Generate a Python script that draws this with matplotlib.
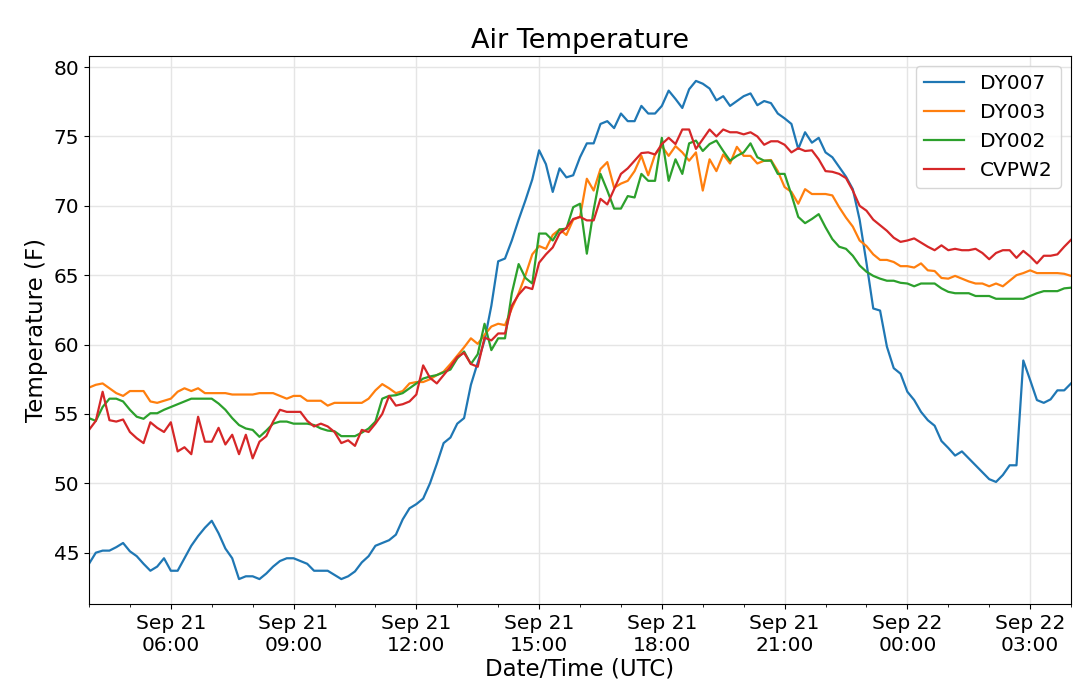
import matplotlib
matplotlib.use("Agg")
import matplotlib.pyplot as plt
import matplotlib.dates as mdates
import pandas as pd

times = pd.date_range("2019-09-21 04:00", periods=145, freq="10min")

dy007 = [44.2, 45.0, 45.15, 45.15, 45.4, 45.7, 45.1, 44.75, 44.2, 43.7, 44.0, 44.6, 43.7, 43.7, 44.6, 45.5,
         46.2, 46.8, 47.3, 46.4, 45.3, 44.6, 43.1, 43.3, 43.3, 43.1, 43.5, 44.0, 44.4, 44.6, 44.6, 44.4,
         44.2, 43.7, 43.7, 43.7, 43.4, 43.1, 43.3, 43.65, 44.3, 44.75, 45.5, 45.7, 45.9, 46.3, 47.4, 48.2,
         48.5,
         48.9, 50.0, 51.4, 52.9, 53.3, 54.3, 54.7, 57.1, 58.7, 60.3, 62.8, 66.0, 66.2, 67.5, 69.0, 70.4,
         71.9, 74.0, 73.0, 71.0, 72.7, 72.05, 72.2, 73.5, 74.5, 74.5,
         75.9, 76.1, 75.6, 76.65, 76.1, 76.1, 77.2, 76.65, 76.65, 77.2,
         78.3, 77.7, 77.05, 78.4, 79.0, 78.8, 78.45, 77.6, 77.9, 77.2, 77.55, 77.9, 78.1, 77.25, 77.55,
         77.4, 76.65, 76.3, 75.9, 74.1, 75.3, 74.55, 74.9,
         73.85, 73.5, 72.8, 72.1, 71.2, 69.0, 65.9, 62.6, 62.45, 59.85, 58.3, 57.9, 56.6, 56.0, 55.15,
         54.55, 54.15, 53.05, 52.55, 52.0, 52.3, 51.8, 51.3, 50.8, 50.3, 50.1, 50.6, 51.3, 51.3, 58.85,
         57.45, 56.0, 55.8, 56.05, 56.7, 56.7, 57.2]

dy003 = [56.9, 57.1, 57.2, 56.85, 56.5, 56.3, 56.65, 56.65, 56.65, 55.9, 55.8, 55.95, 56.1, 56.6, 56.85,
         56.65, 56.85, 56.5, 56.5, 56.5, 56.5, 56.4, 56.4, 56.4, 56.4, 56.5, 56.5, 56.5, 56.3, 56.1, 56.3,
         56.3, 55.95, 55.95, 55.95, 55.6, 55.8, 55.8, 55.8, 55.8, 55.8, 56.1, 56.7, 57.15, 56.85, 56.5,
         56.65, 57.2, 57.3,
         57.3, 57.5, 57.8, 58.05, 58.6, 59.2, 59.8, 60.45, 60.05, 60.7, 61.3, 61.5, 61.4, 62.6, 63.7, 65.0,
         66.5, 67.1, 66.9, 67.9, 68.3, 67.9, 69.0, 69.2, 71.95, 71.1, 72.65, 73.15, 71.3, 71.6, 71.8, 72.5,
         73.6, 72.2, 73.7, 74.3, 73.6, 74.3, 73.85, 73.25, 73.85, 71.1, 73.35, 72.5, 73.7, 73.05, 74.25,
         73.6, 73.6, 73.05, 73.25, 73.3, 72.5, 71.35, 71.0, 70.15, 71.2, 70.85, 70.85, 70.85, 70.75,
         69.9, 69.15, 68.5, 67.5, 67.1, 66.5, 66.1, 66.1, 65.95, 65.65, 65.65, 65.55, 65.85, 65.35, 65.3,
         64.8, 64.75, 64.95, 64.75, 64.55, 64.4, 64.4, 64.2, 64.4, 64.2, 64.6, 65.0, 65.15, 65.35, 65.15,
         65.15, 65.15, 65.15, 65.1, 64.95]

dy002 = [54.7, 54.5, 55.5, 56.1, 56.1, 55.9, 55.3, 54.8, 54.65, 55.05, 55.05, 55.3, 55.5, 55.7, 55.9,
         56.1, 56.1, 56.1, 56.1, 55.75, 55.3, 54.7, 54.2, 53.95, 53.85, 53.35, 53.8, 54.3, 54.45, 54.45,
         54.3, 54.3, 54.3, 54.2, 53.95, 53.8, 53.75, 53.4, 53.4, 53.4, 53.65, 53.95, 54.45, 56.1, 56.3,
         56.35, 56.5, 56.85, 57.2,
         57.55, 57.7, 57.8, 58.0, 58.2, 59.0, 59.5, 58.6, 59.3, 61.5, 59.6, 60.45, 60.45, 63.7, 65.8, 64.8,
         64.4, 68.0, 68.0, 67.5, 68.3, 68.35, 69.9, 70.15, 66.55, 69.7, 72.3, 71.1, 69.8, 69.8, 70.7, 70.6,
         72.3, 71.8, 71.8, 74.9, 71.8, 73.35, 72.3, 74.5, 74.7, 73.95, 74.45, 74.7, 73.95, 73.25, 73.6,
         73.85, 74.5, 73.5, 73.25, 73.25, 72.3, 72.3, 70.8, 69.2, 68.75, 69.05, 69.4, 68.45, 67.6,
         67.05, 66.9, 66.4, 65.7, 65.25, 64.95, 64.75, 64.6, 64.6, 64.45, 64.4, 64.2, 64.4, 64.4, 64.4,
         64.05, 63.8, 63.7, 63.7, 63.7, 63.5, 63.5, 63.5, 63.3, 63.3, 63.3, 63.3, 63.3, 63.5, 63.7, 63.85,
         63.85, 63.85, 64.05, 64.1]

cvpw2 = [53.85, 54.5, 56.6, 54.55, 54.45, 54.6, 53.7, 53.25, 52.9, 54.4, 54.0, 53.7, 54.4, 52.3, 52.6,
         52.1, 54.8, 53.0, 53.0, 54.0, 52.8, 53.5, 52.1, 53.5, 51.8, 53.0, 53.4, 54.45, 55.3, 55.15, 55.15,
         55.15, 54.5, 54.1, 54.3, 54.1, 53.7, 52.9, 53.1, 52.7, 53.85, 53.7, 54.3, 55.0, 56.3, 55.6, 55.7,
         55.9, 56.4,
         58.5, 57.6, 57.2, 57.8, 58.4, 59.1, 59.4, 58.6, 58.4, 60.5, 60.3, 60.8, 60.8, 62.8, 63.6, 64.15,
         64.0, 65.9, 66.5, 67.0, 68.0, 68.4, 69.05, 69.2, 68.95, 68.95, 70.5, 70.1, 71.2, 72.3, 72.7, 73.25,
         73.8, 73.85, 73.7, 74.45, 74.9, 74.45, 75.5, 75.5, 74.1, 74.8, 75.5, 75.0, 75.5, 75.3, 75.3,
         75.15, 75.3, 75.0, 74.4, 74.65, 74.65, 74.4, 73.85, 74.15, 73.95, 74.0, 73.35, 72.5, 72.45,
         72.3, 72.0, 71.1, 70.0, 69.65, 69.0, 68.6, 68.2, 67.7, 67.4, 67.5, 67.65, 67.35, 67.05, 66.8,
         67.15, 66.8, 66.9, 66.8, 66.8, 66.9, 66.6, 66.15, 66.6, 66.8, 66.8, 66.25, 66.75, 66.35, 65.85,
         66.4, 66.4, 66.5, 67.05, 67.55]

series_names = ["DY007", "DY003", "DY002", "CVPW2"]
series_values = [dy007, dy003, dy002, cvpw2]
colors = ["#1f77b4", "#ff7f0e", "#2ca02c", "#d62728"]

fig = plt.figure(figsize=(10.8, 6.89), dpi=100)
ax = fig.add_axes([0.0824, 0.1234, 0.9093, 0.7953])

for name, vals, c in zip(series_names, series_values, colors):
    ax.plot(times, vals, color=c, linewidth=1.6, label=name)

ax.set_xlim(times[0], times[-1])
ax.xaxis.set_major_locator(mdates.HourLocator(byhour=range(0, 24, 3)))
ax.xaxis.set_minor_locator(mdates.HourLocator())
ax.xaxis.set_major_formatter(mdates.DateFormatter("%b %d\n%H:%M"))
ax.tick_params(axis="both", which="major", labelsize=14.5)
ax.grid(True, which="major", color="#e5e5e5", linewidth=1)
ax.set_axisbelow(True)

ax.set_title("Air Temperature", fontsize=19.5)
ax.set_xlabel("Date/Time (UTC)", fontsize=16.5, labelpad=2)
ax.set_ylabel("Temperature (F)", fontsize=16.5)
ax.legend(loc="upper right", fontsize=14.5)

fig.savefig("out.png", dpi=100)
